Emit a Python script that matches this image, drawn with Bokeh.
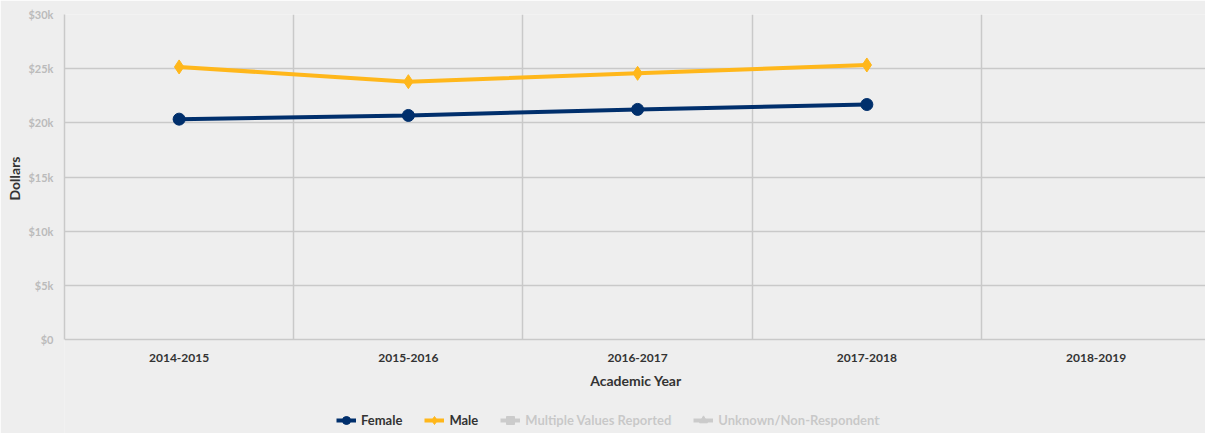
from bokeh.plotting import figure
from bokeh.models import FixedTicker, Legend, LegendItem, ColumnDataSource, BoxAnnotation, Title
from bokeh.embed import file_html
from bokeh.resources import INLINE

years = ["2014-2015", "2015-2016", "2016-2017", "2017-2018", "2018-2019"]
female = [20340, 20680, 21240, 21690]
male = [25160, 23800, 24570, 25340]
y_ticks = [0, 5000, 10000, 15000, 20000, 25000, 30000]
y_labels = ["$0", "$5k", "$10k", "$15k", "$20k", "$25k", "$30k"]
legend_on = ["Female", "Male"]
legend_off = ["Multiple Values Reported", "Unknown/Non-Respondent"]

BG = "#eeeeee"
GRID = "#c9c9c9"
NAVY = "#002f6c"
GOLD = "#ffb71b"
FONT = "Lato"

# layout: plotting area 325px tall for 0..30k, plus 94px below for axis texts and legend
PLOT_H, BELOW_H = 325, 94
y_max = y_ticks[-1]
y_min = -y_max * BELOW_H / PLOT_H

xs = [i + 0.5 for i in range(len(years))]

p = figure(frame_width=1143, frame_height=PLOT_H + BELOW_H, output_backend="svg",
           toolbar_location=None, x_range=(0, 4.986), y_range=(y_min, y_max),
           min_border_left=62, min_border_top=14, min_border_bottom=0, min_border_right=0)
p.background_fill_color = BG
p.border_fill_color = BG
p.outline_line_color = None

# grids
p.xgrid.ticker = FixedTicker(ticks=[1, 2, 3, 4])
p.ygrid.ticker = FixedTicker(ticks=y_ticks[1:])
for g in (p.xgrid, p.ygrid):
    g.grid_line_color = GRID
    g.grid_line_width = 1.5
# hide grid lines below the zero line
p.add_layout(BoxAnnotation(top=0, fill_color=BG, fill_alpha=1.0, line_alpha=0, level="underlay"))

# axes
p.xaxis.fixed_location = 0
p.xaxis.ticker = FixedTicker(ticks=xs)
p.xaxis.major_label_overrides = {x: y for x, y in zip(xs, years)}
p.yaxis.ticker = FixedTicker(ticks=y_ticks)
p.yaxis.major_label_overrides = {t: l for t, l in zip(y_ticks, y_labels)}
p.yaxis.bounds = (0, y_max)
for ax in (p.xaxis, p.yaxis):
    ax.major_tick_line_color = None
    ax.minor_tick_line_color = None
    ax.axis_line_color = GRID
    ax.axis_line_width = 1.5
    ax.major_label_text_font = FONT
    ax.major_label_text_font_style = "bold"
    ax.axis_label_text_font = FONT
    ax.axis_label_text_font_style = "bold"
    ax.axis_label_text_font_size = "14px"
    ax.axis_label_text_color = "#333333"
p.xaxis.major_label_text_font_size = "12px"
p.xaxis.major_label_text_color = "#333333"
p.xaxis.major_label_standoff = 8
p.xaxis.axis_label = "Academic Year"
p.xaxis.axis_label_standoff = 7
p.yaxis.major_label_text_font_size = "11px"
p.yaxis.major_label_text_color = "#bbbbbb"
p.yaxis.major_label_standoff = 5

# y-axis title, centred on the 0..30k part of the frame
p.add_layout(Title(text="Dollars", align="left", offset=233, text_font=FONT,
                   text_font_style="bold", text_font_size="14px",
                   text_color="#333333", standoff=6), "left")

fsrc = ColumnDataSource(dict(x=xs[:len(female)], y=female))
msrc = ColumnDataSource(dict(x=xs[:len(male)], y=male))

fl = p.line("x", "y", source=fsrc, line_color=NAVY, line_width=4)
fm = p.scatter("x", "y", source=fsrc, marker="circle", size=12, fill_color=NAVY, line_color=NAVY)
ml = p.line("x", "y", source=msrc, line_color=GOLD, line_width=4)
mm = p.scatter("x", "y", source=msrc, marker="diamond", size=14, fill_color=GOLD, line_color=GOLD)

# series without any reported values
nodata = ColumnDataSource(dict(x=[float("nan")], y=[float("nan")]))
GREY = "#444444"
ul = p.line("x", "y", source=nodata, line_color=GREY, line_width=4,
            muted_color=GREY, muted_alpha=1.0, muted=True)
us = p.scatter("x", "y", source=nodata, marker="square", size=10, fill_color=GREY, line_color=GREY,
               muted_color=GREY, muted_alpha=1.0, muted=True)
vl = p.line("x", "y", source=nodata, line_color=GREY, line_width=4,
            muted_color=GREY, muted_alpha=1.0, muted=True)
vs = p.scatter("x", "y", source=nodata, marker="triangle", size=10, fill_color=GREY, line_color=GREY,
               muted_color=GREY, muted_alpha=1.0, muted=True)

legend = Legend(items=[LegendItem(label=legend_on[0], renderers=[fl, fm]),
                       LegendItem(label=legend_on[1], renderers=[ml, mm])] +
                      [LegendItem(label=legend_off[0], renderers=[ul, us]),
                       LegendItem(label=legend_off[1], renderers=[vl, vs])],
                orientation="horizontal", location=(272, 3), click_policy="mute",
                background_fill_alpha=0, border_line_color=None,
                label_text_font=FONT, label_text_font_style="bold",
                label_text_font_size="13px", label_text_color="#333333",
                glyph_width=20, glyph_height=20, label_standoff=5, spacing=22,
                padding=0, margin=0, label_height=20,
                inactive_fill_color=BG, inactive_fill_alpha=0.8)
p.add_layout(legend, "center")

open("out.html", "w").write(file_html(p, INLINE))
